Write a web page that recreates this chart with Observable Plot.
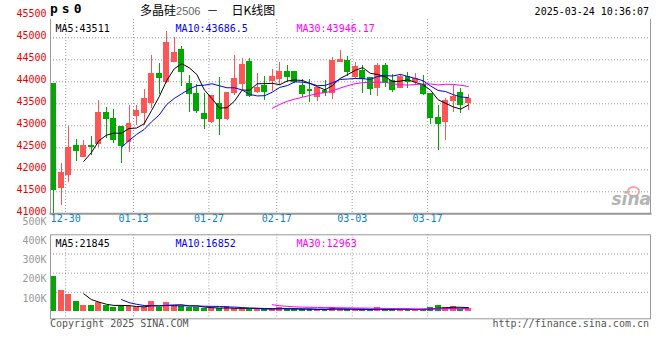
<!DOCTYPE html>
<html><head><meta charset="utf-8">
<script src="https://cdn.jsdelivr.net/npm/d3@7"></script>
<script src="https://cdn.jsdelivr.net/npm/@observablehq/plot@0.6"></script>
<style>
body{margin:0;background:#fff;}
#chart{position:relative;width:660px;height:360px;background:#fff;overflow:hidden;font-family:"DejaVu Sans Mono",monospace;}
.lbl{position:absolute;white-space:nowrap;font-size:10px;line-height:12px;}
#price,#volume{position:absolute;left:0;}
#price{top:0;} #volume{top:225px;}
#price svg,#volume svg{overflow:visible;}
</style></head><body>
<div id="chart">
  <div id="price"></div>
  <div id="volume"></div>
  <div class="lbl" id="code" style="left:50px;top:1px;font-size:13px;font-weight:bold;letter-spacing:4px;line-height:16px;"></div>
  <div class="lbl" id="title" style="left:140px;top:2px;font-size:12px;line-height:16px;font-family:'Noto Sans CJK SC',sans-serif;"></div>
  <div class="lbl" id="stamp" style="right:11px;top:6px;"></div>
  <div class="lbl" id="copy" style="left:50px;top:318px;color:#555;"></div>
  <div class="lbl" id="url" style="right:11px;top:318px;color:#555;"></div>
  <div class="lbl" style="left:627px;top:186px;width:9px;height:7px;border:2px solid #f6a3a3;border-radius:50%;"></div>
  <div class="lbl" id="logo" style="right:9px;top:190px;font-size:17px;line-height:18px;font-style:italic;font-weight:bold;color:#b4b4b4;font-family:'DejaVu Sans',sans-serif;"></div>
</div>
<script>
// ---- data ----
const dates = ["2024-12-26","2024-12-27","2024-12-30","2024-12-31","2025-01-02","2025-01-03","2025-01-06","2025-01-07","2025-01-08","2025-01-09",
"2025-01-10","2025-01-13","2025-01-14","2025-01-15","2025-01-16","2025-01-17","2025-01-20","2025-01-21","2025-01-22","2025-01-23",
"2025-01-24","2025-01-27","2025-02-05","2025-02-06","2025-02-07","2025-02-10","2025-02-11","2025-02-12","2025-02-13","2025-02-14",
"2025-02-17","2025-02-18","2025-02-19","2025-02-20","2025-02-21","2025-02-24","2025-02-25","2025-02-26","2025-02-27","2025-02-28",
"2025-03-03","2025-03-04","2025-03-05","2025-03-06","2025-03-07","2025-03-10","2025-03-11","2025-03-12","2025-03-13","2025-03-14",
"2025-03-17","2025-03-18","2025-03-19","2025-03-20","2025-03-21","2025-03-24"];
const open  = [43955,41580,41870,42550,42285,42550,42570,43295,43160,42985,42625,43220,43275,43515,44195,43990,44445,44735,43955,43725,
43275,43070,43500,43145,43725,43930,44460,43750,43915,44005,44050,44235,44235,43915,43825,43650,43800,43735,44445,44485,
44105,44255,44090,43850,44370,44030,43850,44120,43985,43940,43745,43180,43080,43550,43755,43505];
const high  = [43955,42150,42985,42690,42665,42755,43575,43425,43365,42985,43460,43460,43825,44600,44410,45145,45015,44810,44145,43930,
43725,43690,44105,43750,44600,44525,44525,44180,44120,44280,44440,44380,44235,44050,44050,43875,44025,44560,44710,44575,
44445,44370,44105,44425,44425,44165,44165,44220,44195,44145,43745,43460,43630,43925,43850,43710];
const low   = [41000,41190,41720,42190,42285,42325,42515,42705,42590,42135,42400,43005,43005,43385,43710,43960,44445,43900,43310,43275,
42915,43045,42780,43120,43690,43800,43650,43725,43575,43780,43905,43995,43960,43650,43525,43550,43675,43600,44445,44125,
44085,43745,43700,43665,43875,43765,43850,43840,43915,43690,43030,42440,42665,43300,43280,43350];
const close = [41530,41945,42505,42425,42550,42515,43295,43145,42665,42535,43050,43350,43625,44190,44080,44900,44675,44220,43710,43325,
43145,43690,43145,43750,44080,44395,43675,43875,43765,44120,44235,44100,43985,43710,43780,43875,43735,44485,44505,44220,
44355,44050,43835,44370,43960,43800,44110,43985,44070,43710,43165,43030,43575,43665,43460,43620];
const volume = [182000,109000,88000,52000,31000,31000,45000,30000,22000,31000,26000,21000,21000,52000,21000,45000,31000,26000,22000,22000,
14000,17000,14000,26000,14000,14000,13000,13000,12000,13000,21000,11000,10000,11000,10000,11000,12000,21000,11000,10000,
11000,10000,10000,19000,11000,10000,11000,10000,10000,13000,21000,31000,22000,26000,10000,14000];
const dateTickLabels = ["12-30","01-13","01-27","02-17","03-03","03-17"];
const priceTicks = [41000,41500,42000,42500,43000,43500,44000,44500,45000,45500];
const volumeTicks = [100000,200000,300000,400000,500000];
const maNames = ["MA5","MA10","MA30"];
const priceMA = ["43511","43686.5","43946.17"];
const volumeMA = ["21845","16852","12963"];
const codeText = "ps0";
const titleParts = ["多晶硅","2506","－","日K线图"];
const stampText = "2025-03-24 10:36:07";
const copyText = "Copyright 2025 SINA.COM";
const urlText = "http://finance.sina.com.cn";
const logoText = "sina";

// ---- styles ----
const RED = "#ff5555", GREEN = "#00a800";
const MA_COLORS = ["#000000","#0000ff","#ff00ff"];
const MA_K = [5,10,30];
const MA_DX = [5,125,246];
const GRID = {stroke:"#999", strokeOpacity:1, strokeDasharray:"1,2"};

const candles = dates.map((d,i)=>({i, date:d, open:open[i], high:high[i], low:low[i], close:close[i], volume:volume[i], up: close[i] >= open[i]}));
const ups = candles.filter(d=>d.up), downs = candles.filter(d=>!d.up);
const tickIdx = dateTickLabels.map(l => dates.findIndex(d => d.slice(5) === l));
const xScale = {domain:[0, dates.length-1], range:[53.1, 467.8], axis:null};
const baseStyle = {fontFamily:"'DejaVu Sans Mono', monospace", fontSize:"10px", background:"transparent", overflow:"visible"};

function maMarks(field, labels){
  const marks = [];
  MA_K.forEach((k,j)=>{
    marks.push(Plot.lineY(candles, Plot.windowY({k, anchor:"end", strict:true, reduce:"mean"},
      {x:"i", y:field, stroke:MA_COLORS[j], strokeWidth:1})));
    marks.push(Plot.text([`${maNames[j]}:${labels[j]}`], {frameAnchor:"top-left", dx:MA_DX[j], dy:5,
      text:d=>d, textAnchor:"start", fill:MA_COLORS[j], fontSize:10}));
  });
  return marks;
}

const price = Plot.plot({
  width:660, height:228, marginLeft:50, marginRight:10, marginTop:19, marginBottom:14.7,
  style: baseStyle,
  x: xScale,
  y: {domain:[41000,45500], range:[213.3,15.3], label:null},
  marks: [
    Plot.gridY(priceTicks.filter(v=>v>41000 && v<45500), GRID),
    Plot.gridX(tickIdx.map(i=>i-0.4), GRID),
    Plot.ruleX(ups, {x:"i", y1:"low", y2:"high", stroke:RED, shapeRendering:"crispEdges"}),
    Plot.ruleX(downs, {x:"i", y1:"low", y2:"high", stroke:GREEN, shapeRendering:"crispEdges"}),
    Plot.rect(ups, {x1:d=>d.i-0.39, x2:d=>d.i+0.39, y1:"open", y2:"close", fill:RED, shapeRendering:"crispEdges"}),
    Plot.rect(downs, {x1:d=>d.i-0.39, x2:d=>d.i+0.39, y1:"open", y2:"close", fill:GREEN, shapeRendering:"crispEdges"}),
    ...maMarks("close", priceMA),
    Plot.frame({anchor:"left", stroke:"#999"}),
    Plot.frame({anchor:"right", stroke:"#999"}),
    Plot.frame({anchor:"bottom", stroke:"#999", strokeWidth:2}),
    Plot.axisY(priceTicks, {anchor:"left", label:null, tickSize:0, tickPadding:4, tickFormat:d=>String(d), color:"#e00", fontSize:10, dy:-2}),
    Plot.text(tickIdx, {x:i=>i-0.4, frameAnchor:"bottom", dy:8, text:i=>dates[i].slice(5), fill:"#0a7fd0", fontSize:10})
  ]
});
document.getElementById("price").appendChild(price);

const vol = Plot.plot({
  width:660, height:105, marginLeft:50, marginRight:10, marginTop:9.3, marginBottom:11.7,
  style: baseStyle,
  x: xScale,
  y: {domain:[0,400000], range:[86,9.3], label:null},
  marks: [
    Plot.gridY(volumeTicks.filter(v=>v<400000), GRID),
    Plot.gridX(tickIdx.map(i=>i-0.4), GRID),
    Plot.rectY(ups, {x1:d=>d.i-0.39, x2:d=>d.i+0.39, y:"volume", fill:RED, shapeRendering:"crispEdges"}),
    Plot.rectY(downs, {x1:d=>d.i-0.39, x2:d=>d.i+0.39, y:"volume", fill:GREEN, shapeRendering:"crispEdges"}),
    ...maMarks("volume", volumeMA),
    Plot.frame({stroke:"#999"}),
    Plot.axisY(volumeTicks, {anchor:"left", label:null, tickSize:0, tickPadding:4, tickFormat:d=>(d/1000)+"K", color:"#999", fontSize:10, dy:6})
  ]
});
document.getElementById("volume").appendChild(vol);

document.getElementById("code").textContent = codeText;
document.getElementById("title").innerHTML =
  `${titleParts[0]}<span style="color:#666;font-family:'Liberation Sans',sans-serif;font-size:11px">${titleParts[1]}</span>` +
  `<span style="display:inline-block;margin:0 13px 0 6px">${titleParts[2]}</span>${titleParts[3]}`;
document.getElementById("stamp").textContent = stampText;
document.getElementById("copy").textContent = copyText;
document.getElementById("url").textContent = urlText;
document.getElementById("logo").textContent = logoText;
</script>
</body></html>
